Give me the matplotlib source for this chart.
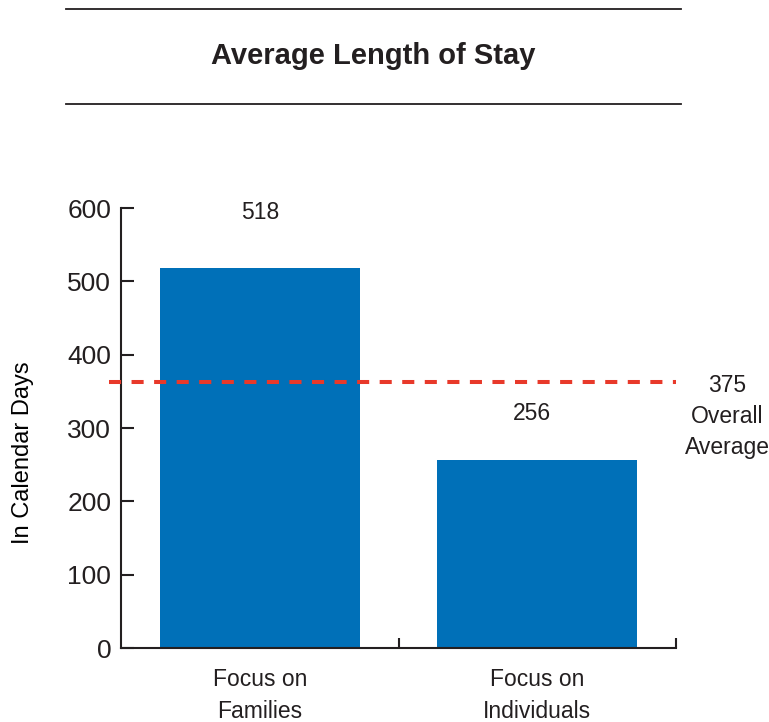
import matplotlib
matplotlib.use("Agg")
import matplotlib.pyplot as plt
from matplotlib.lines import Line2D

# datos
categorias = ["Focus on\nFamilies", "Focus on\nIndividuals"]
valores = [518, 256]
promedio_texto = "375"      # lo que dice la etiqueta
promedio_linea = 363        # donde esta dibujada la linea
yticks = [0, 100, 200, 300, 400, 500, 600]

azul = "#0070b8"
rojo = "#e8392a"
oscuro = "#231f20"

plt.rcParams['font.family'] = ['Liberation Sans', 'DejaVu Sans']
plt.rcParams['text.color'] = oscuro

fig = plt.figure(figsize=(7.69, 7.22), dpi=100)
ax = fig.add_axes([121/769, 74/722, 555/769, 440/722])

x = [i + 0.5 for i in range(len(valores))]
ax.bar(x, valores, width=0.72, color=azul, zorder=2)

# etiquetas de valor (desplazamiento en puntos)
desp = [40, 34]
dx = [0, -4]
for xi, v, d, h in zip(x, valores, desp, dx):
    ax.annotate(str(v), (xi, v), xytext=(h, d), textcoords="offset points",
                ha="center", va="center", fontsize=16.5)

# linea de promedio
ax.plot([-0.045, len(valores)], [promedio_linea, promedio_linea], color=rojo,
        lw=2.9, ls=(0, (3.0, 2.6)), clip_on=False, zorder=3)
ax.text(len(valores) + 0.185, promedio_linea - 47, promedio_texto + "\nOverall\nAverage",
        ha="center", va="center", fontsize=16.5, linespacing=1.45)

ax.set_xlim(0, len(valores))
ax.set_ylim(0, 600)
ax.set_yticks(yticks)
ax.tick_params(axis="y", direction="in", length=9, width=1.5, colors=oscuro,
               labelsize=19, pad=7)
ax.set_xticks(range(1, len(valores) + 1))
ax.set_xticklabels([])
ax.tick_params(axis="x", direction="in", length=7, width=1.5, colors=oscuro)
for xi, c in zip(x, categorias):
    ax.text(xi, -27, c, ha="center", va="top", fontsize=16.5, linespacing=1.5)

for s in ["top", "right"]:
    ax.spines[s].set_visible(False)
for s in ["left", "bottom"]:
    ax.spines[s].set_linewidth(1.5)
    ax.spines[s].set_color(oscuro)

ax.set_ylabel("In Calendar Days", fontsize=17)
ax.yaxis.set_label_coords(-0.156, 0.445)

# titulo con lineas
for yy in [9, 104]:
    fig.add_artist(Line2D([66/769, 681/769], [1 - yy/722, 1 - yy/722],
                          transform=fig.transFigure, color=oscuro, lw=1.3))
fig.text(373/769, 1 - 56/722, "Average Length of Stay", ha="center", va="center",
         fontsize=21, fontweight="bold")

fig.savefig("out.png", dpi=100)
